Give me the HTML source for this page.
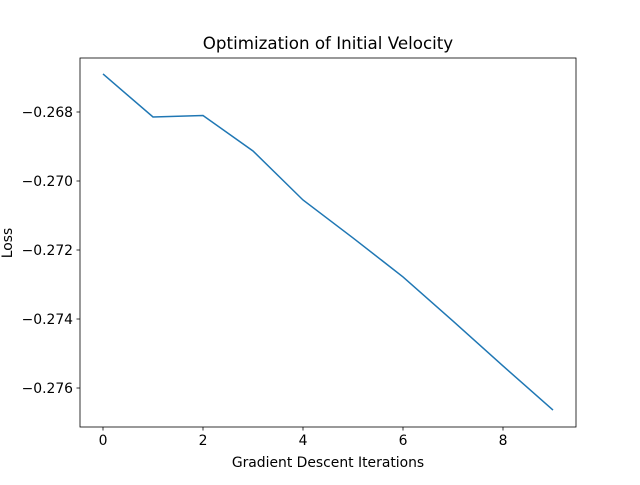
<!DOCTYPE html>
<html><head><meta charset="utf-8"><style>
body{margin:0;background:#fff}
svg text{font-family:"DejaVu Sans","Liberation Sans",sans-serif;fill:#000}
</style></head><body>
<svg id="chart" width="640" height="480" xmlns="http://www.w3.org/2000/svg">
<rect width="640" height="480" fill="#fff"/>
<text x="328" y="49" font-size="16.7" text-anchor="middle">Optimization of Initial Velocity</text>
<text x="328" y="467" font-size="13.9" text-anchor="middle">Gradient Descent Iterations</text>
<text x="0" y="0" font-size="13.9" text-anchor="middle" transform="translate(12,243) rotate(-90)">Loss</text>
<g id="ticks"></g>
<polyline id="line" fill="none" stroke="#1f77b4" stroke-width="1.5"/>
<rect x="80" y="58" width="496" height="369" fill="none" stroke="#000" stroke-width="0.8"/>
</svg>
<script>
const iterations=[0,1,2,3,4,5,6,7,8,9];
const losses=[-0.266898,-0.268145,-0.268101,-0.26913,-0.27055,-0.27165,-0.27278,-0.27406,-0.27536,-0.27664];
const xTicks=[0,2,4,6,8];
const yTicks=[-0.268,-0.270,-0.272,-0.274,-0.276];
const L=80,R=576,T=58,B=427;
const xMin=-0.46,xMax=9.46,yMin=-0.27713,yMax=-0.266435;
const sx=v=>L+(v-xMin)/(xMax-xMin)*(R-L);
const sy=v=>B-(v-yMin)/(yMax-yMin)*(B-T);
const NS="http://www.w3.org/2000/svg";
const g=document.getElementById('ticks');
function mk(tag,attrs){const e=document.createElementNS(NS,tag);for(const k in attrs)e.setAttribute(k,attrs[k]);return e;}
xTicks.forEach(t=>{
  const x=sx(t);
  const l=mk('line',{x1:x,x2:x,y1:B,y2:B+3.5,stroke:'#000','stroke-width':0.8});
  
  
  g.appendChild(l);
  const tx=mk('text',{x:x,y:B+18,'font-size':13.9,'text-anchor':'middle'});
  tx.textContent=String(t);
  
  
  g.appendChild(tx);
});
yTicks.forEach(t=>{
  const y=sy(t);
  const l=mk('line',{x1:L-3.5,x2:L,y1:y,y2:y,stroke:'#000','stroke-width':0.8});
  
  
  g.appendChild(l);
  const tx=mk('text',{x:L-7,y:y+5,'font-size':13.9,'text-anchor':'end'});
  tx.textContent='\u2212'+Math.abs(t).toFixed(3);
  
  
  g.appendChild(tx);
});
document.getElementById('line').setAttribute('points',iterations.map((x,i)=>sx(x)+','+sy(losses[i])).join(' '));
</script>
</body></html>
